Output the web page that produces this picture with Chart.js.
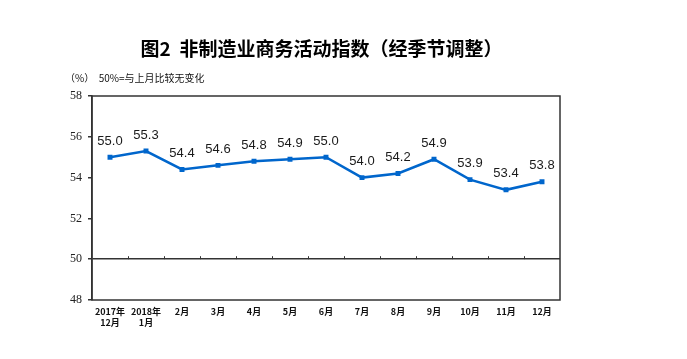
<!DOCTYPE html>
<html><head><meta charset="utf-8">
<script src="https://cdn.jsdelivr.net/npm/chart.js@4/dist/chart.umd.min.js"></script>
<style>
html,body{margin:0;padding:0;background:#fff;}
#wrap{position:relative;width:687px;height:359px;overflow:hidden;}
#c{position:absolute;left:0;top:0;}
.t{position:absolute;white-space:nowrap;font-family:"Noto Sans CJK SC",sans-serif;color:#000;}
#title{left:0;width:643px;text-align:center;top:36px;font-size:19px;font-weight:bold;line-height:24px;}
#sub{left:65px;top:71px;font-size:10px;line-height:14px;color:#111;}
</style></head>
<body>
<div id="wrap">
<canvas id="c" width="687" height="359"></canvas>
<div class="t" id="title">图2&nbsp;&nbsp;非制造业商务活动指数（经季节调整）</div>
<div class="t" id="sub">（%）&nbsp;&nbsp;50%=与上月比较无变化</div>
</div>
<script>
const categories = [['2017年','12月'],['2018年','1月'],'2月','3月','4月','5月','6月','7月','8月','9月','10月','11月','12月'];
const indexValues = [55.0,55.3,54.4,54.6,54.8,54.9,55.0,54.0,54.2,54.9,53.9,53.4,53.8];
const yTicks = [48,50,52,54,56,58];

const boxPlugin = {
  id:'box',
  beforeDatasetsDraw(chart){
    const {ctx, chartArea:a, scales} = chart;
    ctx.save();
    ctx.strokeStyle='#333'; ctx.lineWidth=1.5;
    ctx.strokeRect(a.left, a.top, a.right-a.left, a.bottom-a.top);
    const xs=scales.x, ys=scales.y, y50=ys.getPixelForValue(50);
    ctx.lineWidth=1;
    for(let i=0;i<categories.length-1;i++){
      const x=Math.round((xs.getPixelForValue(i)+xs.getPixelForValue(i+1))/2)+0.5;
      ctx.beginPath(); ctx.moveTo(x,y50); ctx.lineTo(x,y50-3); ctx.stroke();
    }
    ctx.restore();
  }
};
const labelPlugin = {
  id:'vals',
  afterDatasetsDraw(chart){
    const {ctx} = chart;
    const meta = chart.getDatasetMeta(0);
    ctx.save();
    ctx.font='13px "Liberation Sans", Arial, sans-serif';
    ctx.fillStyle='#1a1a1a'; ctx.textAlign='center'; ctx.textBaseline='middle';
    meta.data.forEach((p,i)=>{ ctx.fillText(indexValues[i].toFixed(1), p.x, p.y-16); });
    ctx.restore();
  }
};

new Chart(document.getElementById('c'), {
  type:'line',
  data:{ labels:categories, datasets:[{
    data:indexValues, borderColor:'#0066CC', backgroundColor:'#0066CC',
    borderWidth:2.5, pointStyle:'rect', pointRadius:3.5, pointHoverRadius:3.5,
    pointBorderWidth:0, tension:0
  }]},
  options:{
    responsive:false, animation:false, devicePixelRatio:1,
    layout:{padding:{left:0,right:127,top:96,bottom:0}},
    plugins:{legend:{display:false}, tooltip:{enabled:false}},
    scales:{
      x:{ offset:true,
        grid:{display:false, drawTicks:false, tickLength:0}, border:{display:false},
        ticks:{ color:'#111', font:{family:'"Noto Sans CJK SC", sans-serif', size:9, weight:'bold', lineHeight:1.2}, padding:6, maxRotation:0, autoSkip:false },
        afterFit(s){ s.height = 59; }
      },
      y:{ min:48, max:58, afterBuildTicks(s){ s.ticks = yTicks.map(v=>({value:v})); },
        grid:{ color:c=> c.tick && c.tick.value===50 ? '#333' : 'rgba(0,0,0,0)', lineWidth:1.5, tickColor:'#333', tickLength:4, drawTicks:true },
        border:{display:true,color:'#333',width:1.5},
        ticks:{ color:'#222', font:{family:'"Liberation Serif", serif', size:12}, padding:6 },
        afterFit(s){ s.width = 92; }
      }
    }
  },
  plugins:[boxPlugin,labelPlugin]
});
</script>
</body></html>
